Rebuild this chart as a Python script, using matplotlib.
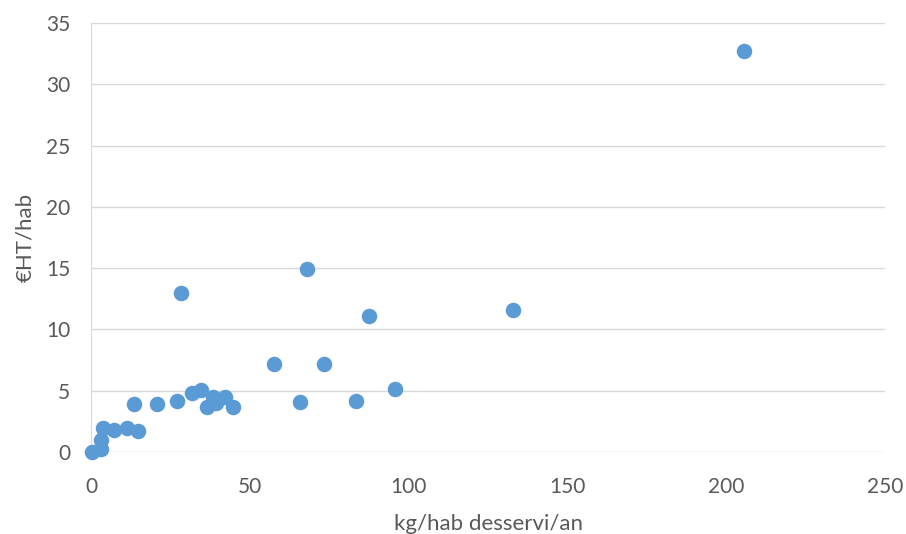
import matplotlib
matplotlib.use("Agg")
import matplotlib.pyplot as plt

kg_hab = [205.6, 68.0, 28.3, 132.9, 87.5, 57.6, 73.4, 95.7, 83.4, 65.8,
          20.8, 27.1, 31.8, 34.6, 36.5, 38.4, 39.4, 42.2, 44.7,
          13.5, 0.2, 3.3, 3.0, 3.9, 7.3, 11.4, 14.7]
eur_hab = [32.7, 14.9, 13.0, 11.6, 11.1, 7.2, 7.2, 5.1, 4.2, 4.1,
           3.9, 4.2, 4.8, 5.05, 3.7, 4.5, 4.0, 4.5, 3.7,
           3.9, 0.0, 0.25, 1.0, 1.95, 1.8, 1.95, 1.7]

x_ticks = [0, 50, 100, 150, 200, 250]
y_ticks = [0, 5, 10, 15, 20, 25, 30, 35]

plt.rcParams['font.family'] = ['Lato', 'DejaVu Sans']

fig = plt.figure(figsize=(9.06, 5.34), dpi=100)
ax = fig.add_axes([91/906, 1-452/534, (885-91)/906, (452-23)/534])
ax.scatter(kg_hab, eur_hab, s=125, color='#5B9BD5', zorder=3, clip_on=False, linewidths=0)
ax.set_xlim(0, 250)
ax.set_ylim(0, 35)
ax.set_xticks(x_ticks)
ax.set_yticks(y_ticks)
ax.grid(axis='y', color='#D9D9D9', linewidth=1)
ax.set_axisbelow(True)
for s in ['top', 'right', 'bottom']:
    ax.spines[s].set_visible(False)
ax.spines['left'].set_color('#D9D9D9')
ax.tick_params(axis='x', length=0, labelsize=15, labelcolor='#595959', pad=18)
ax.tick_params(axis='y', length=0, labelsize=15, labelcolor='#595959', pad=15)
ax.set_xlabel('kg/hab desservi/an', fontsize=16, color='#595959', labelpad=12)
ax.set_ylabel('€HT/hab', fontsize=16, color='#595959', labelpad=8)
fig.savefig('out.png', dpi=100)
